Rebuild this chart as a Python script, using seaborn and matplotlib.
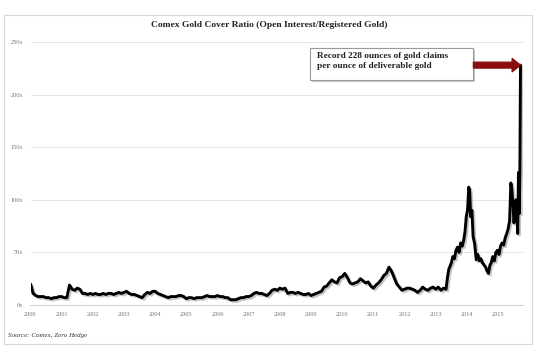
import numpy as np
import pandas as pd
import seaborn as sns
import matplotlib.pyplot as plt
import matplotlib.patheffects as pe
from matplotlib.patches import Rectangle

# monthly readings 2000-2012 (cover ratio, x)
monthly = [
    20, 11, 9, 8, 8, 8, 7, 7, 6, 7, 7, 8,          # 2000
    8, 7, 7, 19, 15, 14, 16, 15, 11, 11, 10, 11,   # 2001
    10, 11, 10, 10, 11, 10, 11, 11, 10, 11, 12, 11,  # 2002
    12, 13, 11, 10, 10, 9, 8, 7, 10, 12, 11, 13,   # 2003
    13, 11, 10, 9, 8, 7, 8, 8, 8, 9, 9, 8,         # 2004
    6, 7, 7, 6, 7, 7, 7, 8, 9, 8, 8, 8,            # 2005
    9, 8, 8, 7, 7, 5, 5, 5, 6, 7, 7, 8,            # 2006
    8, 9, 11, 12, 11, 11, 10, 9, 11, 14, 15, 14,   # 2007
    16, 15, 16, 11, 12, 12, 11, 12, 11, 10, 10, 11,  # 2008
    9, 10, 11, 12, 13, 17, 18, 21, 24, 22, 21, 26,  # 2009
    27, 30, 26, 21, 20, 21, 22, 25, 23, 21, 22, 18,  # 2010
    16, 19, 21, 24, 28, 30, 36, 32, 26, 20, 17, 14,  # 2011
    15, 16, 16, 15, 14, 12, 14, 17, 15, 14, 16, 17,  # 2012
]
# denser readings from 2013 onward
late_dates = [2013.00, 2013.08, 2013.17, 2013.25, 2013.33, 2013.38, 2013.42, 2013.50,
              2013.55, 2013.60, 2013.65, 2013.70, 2013.75, 2013.80, 2013.85, 2013.90,
              2013.94, 2013.98, 2014.02, 2014.06, 2014.09, 2014.12, 2014.16, 2014.20,
              2014.25, 2014.30, 2014.35, 2014.40, 2014.45, 2014.50, 2014.55, 2014.60,
              2014.65, 2014.69, 2014.74, 2014.78, 2014.83, 2014.88, 2014.93, 2014.98,
              2015.03, 2015.08, 2015.13, 2015.18, 2015.23, 2015.28, 2015.32, 2015.37,
              2015.41, 2015.44, 2015.48, 2015.51, 2015.54, 2015.57, 2015.60, 2015.63,
              2015.655, 2015.68, 2015.70, 2015.72]
late_values = [15, 17, 14, 16, 15, 27, 34, 40,
               46, 44, 52, 55, 50, 59, 56, 62,
               70, 84, 90, 112, 108, 84, 90, 65,
               58, 43, 48, 42, 44, 40, 38, 36,
               32, 30, 38, 40, 46, 42, 50, 52,
               48, 56, 59, 57, 64, 68, 72, 80,
               116, 110, 95, 78, 86, 100, 93, 68,
               126, 87, 128, 228]

year_ticks = list(range(2000, 2016))
y_ticks = [0, 50, 100, 150, 200, 250]

df = pd.DataFrame({
    "date": list(2000 + np.arange(len(monthly)) / 12) + late_dates,
    "ratio": monthly + late_values,
})

sns.set_style("white")
plt.rcParams["font.family"] = ["Liberation Serif", "DejaVu Serif"]

fig = plt.figure(figsize=(5.41, 3.54), dpi=100)
ax = fig.add_axes([30.5 / 541, 1 - 305 / 354, (523 - 30.5) / 541, (305 - 42) / 354])

# outer frame
fig.patches.append(Rectangle((4 / 541, 1 - 344 / 354), 528 / 541, 329 / 354,
                             transform=fig.transFigure, fill=False,
                             edgecolor="#d9d9d9", linewidth=0.8))

sns.lineplot(data=df, x="date", y="ratio", ax=ax, color="black", linewidth=2.1,
             path_effects=[pe.SimpleLineShadow(offset=(1.2, -1.2), shadow_color="gray", alpha=0.45),
                           pe.Normal()])

ax.set_xlim(2000, 2015.8)
ax.set_ylim(0, 250)
ax.set_xticks(year_ticks)
ax.set_xticklabels([str(y) for y in year_ticks])
ax.set_yticks(y_ticks)
ax.set_yticklabels([f"{v}x" for v in y_ticks])
ax.grid(axis="y", color="#e3e3e3", linewidth=0.7)
ax.set_axisbelow(True)
for s in ["top", "right", "left"]:
    ax.spines[s].set_visible(False)
ax.spines["bottom"].set_color("#d0d0d0")
ax.spines["bottom"].set_linewidth(0.7)
ax.tick_params(axis="x", labelsize=4.6, colors="#777777", length=2, width=0.5, pad=3,
               color="#cccccc")
ax.tick_params(axis="y", labelsize=4.6, colors="#777777", length=0, pad=5)
ax.set_xlabel("")
ax.set_ylabel("")

fig.text(269 / 541, 1 - 25 / 354, "Comex Gold Cover Ratio (Open Interest/Registered Gold)",
         ha="center", va="center", fontsize=6.8, fontweight="bold", color="#222222")
fig.text(8 / 541, 1 - 336 / 354, "Source: Comex, Zero Hedge", ha="left", va="center",
         fontsize=5, style="italic", color="#333333")

# annotation box and arrow
box = Rectangle((2008.98, 213.5), 2014.21 - 2008.98, 30.5, facecolor="white",
                edgecolor="#9a9a9a", linewidth=0.8, zorder=5,
                path_effects=[pe.withSimplePatchShadow(offset=(1, -1), alpha=0.3)])
ax.add_patch(box)
ax.text(2009.2, 240.5, "Record 228 ounces of gold claims\nper ounce of deliverable gold",
        ha="left", va="top", fontsize=6.7, fontweight="bold", color="#222222",
        linespacing=1.3, zorder=6)
ax.annotate("", xy=(2015.72, 228), xytext=(2014.21, 228),
            arrowprops=dict(arrowstyle="simple,head_length=0.6,head_width=0.95,tail_width=0.42",
                            color="#8b0e0e", shrinkA=0, shrinkB=0), zorder=6)

fig.savefig("out.png", dpi=100)
